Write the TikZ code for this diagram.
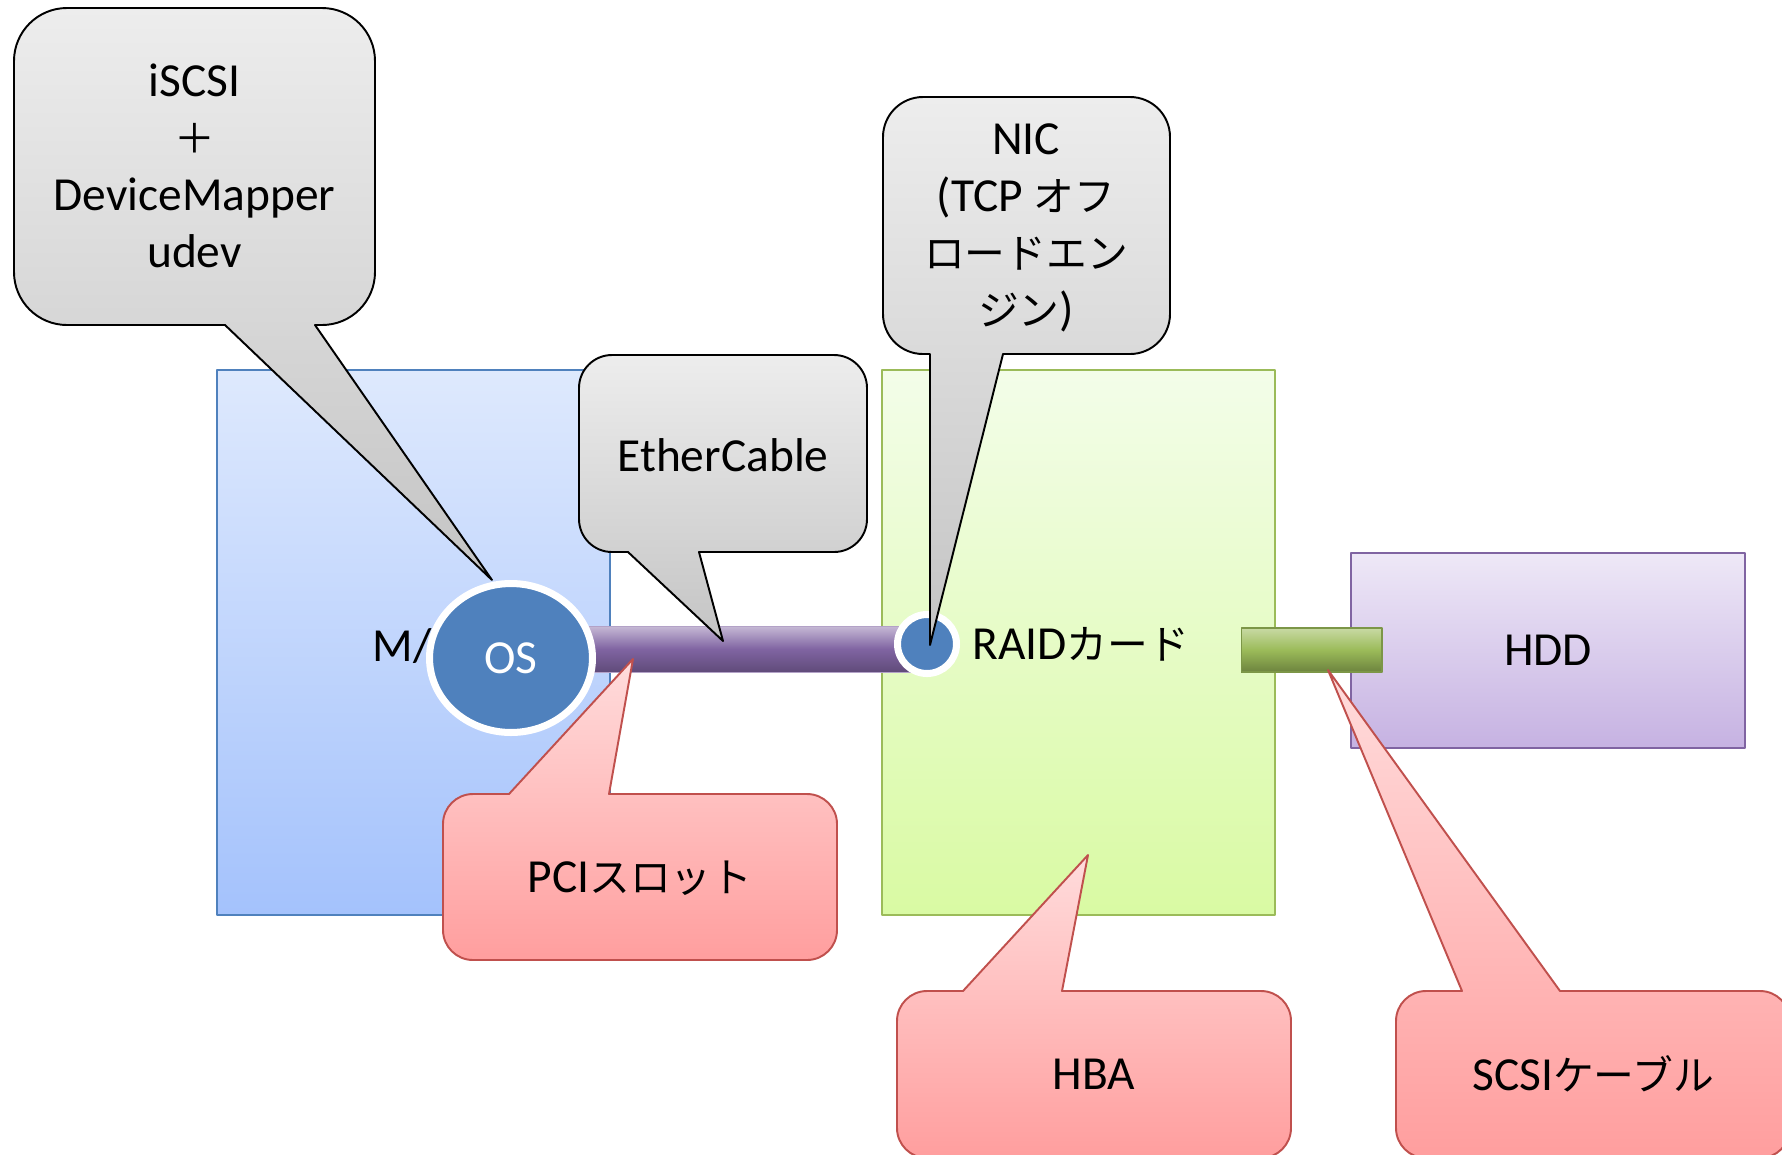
\documentclass[tikz,border=0pt]{standalone}
\usepackage{fontspec}
\setmainfont{Carlito}
\newfontfamily\jp{Noto Sans CJK JP}[Scale=0.86]
\usetikzlibrary{shapes.geometric}
\definecolor{mbline}{HTML}{4F81BD}
\definecolor{mbtop}{HTML}{DEE9FD}
\definecolor{mbbot}{HTML}{A4C2FC}
\definecolor{raidline}{HTML}{9BBB59}
\definecolor{raidtop}{HTML}{F3FDE9}
\definecolor{raidbot}{HTML}{D9FAA3}
\definecolor{hddline}{HTML}{8064A2}
\definecolor{hddtop}{HTML}{EEE8F7}
\definecolor{hddbot}{HTML}{C6B2E2}
\definecolor{greytop}{HTML}{EDEDED}
\definecolor{greybot}{HTML}{C4C4C4}
\definecolor{pinkline}{HTML}{C0504D}
\definecolor{pinktop}{HTML}{FFDCDC}
\definecolor{pinkbot}{HTML}{FF9E9E}
\definecolor{osblue}{HTML}{4F81BD}
\begin{document}
\begin{tikzpicture}[x=0.02cm,y=0.02cm,line join=round,font=\fontsize{27}{32.4}\selectfont,
	box/.style={rectangle,draw,line width=1.1pt,inner sep=0pt},
	greycall/.style={draw=black,line width=1.1pt,top color=greytop,bottom color=greybot},
	pinkcall/.style={draw=pinkline,line width=1.1pt,top color=pinktop,bottom color=pinkbot},
	txt/.style={align=center,inner sep=0pt}]
		\useasboundingbox (0,0) rectangle (1782,-1154);
		\clip (0,0) rectangle (1782,-1154);
		% boxes
		\node[box,draw=mbline,top color=mbtop,bottom color=mbbot,minimum width=7.86cm,minimum height=10.9cm] (mbbox) at (413.5,-642.5) {};
		\node[box,draw=raidline,top color=raidtop,bottom color=raidbot,minimum width=7.86cm,minimum height=10.9cm] (raidbox) at (1078.5,-642.5) {};
		\node[box,draw=hddline,top color=hddtop,bottom color=hddbot,minimum width=7.88cm,minimum height=3.9cm] (hdd) at (1548,-650.5) {HDD};
		\node[anchor=base east,inner sep=0pt] (mb) at (432,-661) {M/};
		% tips of the callouts
		\coordinate (tipOS) at (492,-580);
		\coordinate (tipCable) at (723,-641);
		\coordinate (tipNIC) at (930,-645);
		\coordinate (tipPCI) at (633,-659);
		\coordinate (tipHBA) at (1088,-855);
		\coordinate (tipSCSI) at (1328,-670);
		% iSCSI
		\shade[greycall] (194.5,-8) [rounded corners=1.06cm] -- (375,-8) -- (375,-325) [sharp corners] -- (315,-325) -- (tipOS) -- (225,-325) [rounded corners=1.06cm] -- (14,-325) -- (14,-8) -- cycle;
		\node[txt] (iscsi) at (194.5,-166) {iSCSI\\{\jp ＋}\\DeviceMapper\\udev};
		% cable and OS
		\node[box,draw=hddline!60,line width=0.4pt,top color=hddline!45,bottom color=hddline!75!black,middle color=hddline,minimum width=7.8cm,minimum height=0.92cm] (cable) at (735,-649) {};
		\node[ellipse,draw=white,line width=4pt,fill=osblue,text=white,inner sep=0pt,minimum width=3.26cm,minimum height=2.98cm] (os) at (511,-658) {OS};
		\shade[greycall] (723,-355) [rounded corners=0.66cm] -- (867,-355) -- (867,-552) [sharp corners] -- (699,-552) -- (tipCable) -- (628,-552) [rounded corners=0.66cm] -- (579,-552) -- (579,-355) -- cycle;
		\node[txt] (ether) at (723,-455) {EtherCable};
		% NIC
		\node[circle,draw=white,line width=4pt,fill=osblue,inner sep=0pt,minimum size=1.18cm] (nic) at (927,-644) {};
		\shade[greycall] (1026,-97) [rounded corners=0.8cm] -- (1170,-97) -- (1170,-354) [sharp corners] -- (1003,-354) -- (tipNIC) -- (930,-354) [rounded corners=0.8cm] -- (883,-354) -- (883,-97) -- cycle;
		\node[txt] (niclabel) at (1026,-228) {NIC\\(TCP {\jp オフ}\\{\jp ロードエン}\\{\jp ジン})};
		\node[anchor=base west,inner sep=0pt] (raid) at (972,-659) {RAID{\jp カード}};
		% SCSI connector
		\node[box,draw=raidline!80!black,line width=0.6pt,top color=raidline!55,bottom color=raidline!70!black,middle color=raidline,minimum width=2.82cm,minimum height=0.88cm] (conn) at (1311.5,-650) {};
		% red callouts
		\shade[pinkcall] (640,-960) [rounded corners=0.6cm] -- (443,-960) -- (443,-794) [sharp corners] -- (509,-794) -- (tipPCI) -- (609,-794) [rounded corners=0.6cm] -- (837,-794) -- (837,-960) -- cycle;
		\node[txt] (pci) at (640,-878) {PCI{\jp スロット}};
		\shade[pinkcall] (1094,-1158) [rounded corners=0.6cm] -- (897,-1158) -- (897,-991) [sharp corners] -- (963,-991) -- (tipHBA) -- (1062,-991) [rounded corners=0.6cm] -- (1291,-991) -- (1291,-1158) -- cycle;
		\node[txt] (hba) at (1094,-1074) {HBA};
		\shade[pinkcall] (1593,-1158) [rounded corners=0.6cm] -- (1396,-1158) -- (1396,-991) [sharp corners] -- (1462,-991) -- (tipSCSI) -- (1560,-991) [rounded corners=0.6cm] -- (1790,-991) -- (1790,-1158) -- cycle;
		\node[txt] (scsi) at (1593,-1074) {SCSI{\jp ケーブル}};
\end{tikzpicture}
\end{document}
